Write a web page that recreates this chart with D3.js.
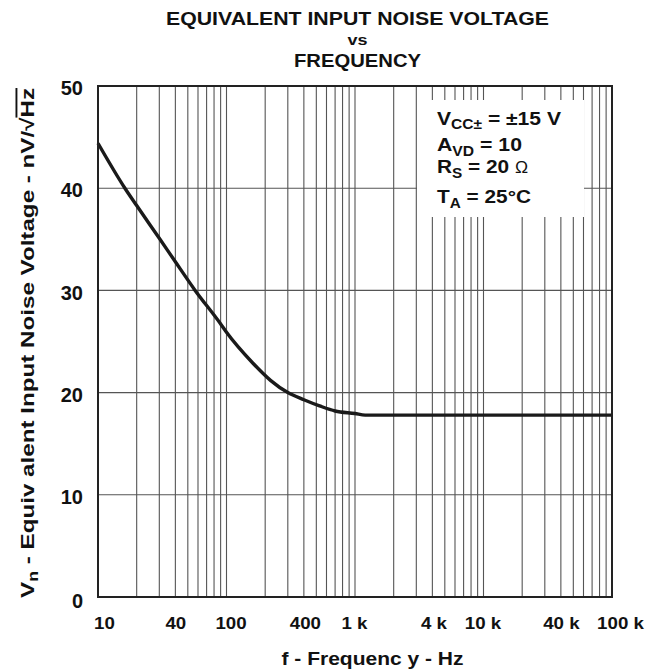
<!DOCTYPE html>
<html>
<head>
<meta charset="utf-8">
<script src="https://cdn.jsdelivr.net/npm/d3@7"></script>
<style>
  body { margin: 0; background: #fff; }
  text { font-family: "Liberation Sans", Arial, sans-serif; font-weight: bold; fill: #111; }
</style>
</head>
<body>
<div id="chart"></div>
<script>
// curve
var freq = [10, 16.2, 20, 30, 40, 57, 89, 100, 160, 220, 300, 400, 530, 700, 1000, 1200, 100000];
var noise = [44.4, 40, 38.3, 35.1, 32.8, 30, 26.8, 25.9, 22.9, 21.2, 20, 19.3, 18.7, 18.2, 17.95, 17.8, 17.8];

var xTickVals = [10, 40, 100, 400, 1000, 4000, 10000, 40000, 100000];
var xTickLabels = ["10", "40", "100", "400", "1 k", "4 k", "10 k", "40 k", "100 k"];
var yTickVals = [0, 10, 20, 30, 40, 50];

var margin = {top: 86, right: 52, bottom: 74, left: 98};
var W = 664, H = 671;
var width = W - margin.left - margin.right;
var height = H - margin.top - margin.bottom;

var svg = d3.select("#chart").append("svg")
  .attr("width", W)
  .attr("height", H);

var x = d3.scaleLog().domain([10, 100000]).range([0, width]);
var y = d3.scaleLinear().domain([0, 50]).range([height, 0]);

var g = svg.append("g")
  .attr("transform", "translate(" + margin.left + "," + margin.top + ")");

// minor + major vertical grid (1..9 per decade)
var gridX = [];
for (var p = 1; p < 5; p++) {
  for (var k = 1; k < 10; k++) {
    gridX.push(k * Math.pow(10, p));
  }
}
g.append("g").selectAll("line")
  .data(gridX.filter(function(d) { return d > 10; }))
  .enter().append("line")
    .attr("x1", function(d) { return x(d); })
    .attr("x2", function(d) { return x(d); })
    .attr("y1", 0)
    .attr("y2", height)
    .attr("stroke", "#555")
    .attr("stroke-width", 1.1);

g.append("g").selectAll("line")
  .data(yTickVals.slice(1, -1))
  .enter().append("line")
    .attr("x1", 0)
    .attr("x2", width)
    .attr("y1", function(d) { return y(d); })
    .attr("y2", function(d) { return y(d); })
    .attr("stroke", "#555")
    .attr("stroke-width", 1.1);

// legend box knocks out the grid
var boxLeft = 319, boxRight = 486;
var box = g.append("g").attr("transform", "translate(" + boxLeft + "," + 14 + ")");
box.append("rect")
  .attr("width", boxRight - boxLeft)
  .attr("height", 117)
  .attr("fill", "#fff");

// curve
var line = d3.line()
  .x(function(d, i) { return x(freq[i]); })
  .y(function(d) { return y(d); })
  .curve(d3.curveMonotoneX);

g.append("path")
  .datum(noise)
  .attr("fill", "none")
  .attr("stroke", "#1a1a1a")
  .attr("stroke-width", 3.4)
  .attr("d", line);

// frame
g.append("rect")
  .attr("width", width)
  .attr("height", height)
  .attr("fill", "none")
  .attr("stroke", "#222")
  .attr("stroke-width", 2);

// axes labels
var xDx = [6, 0, 4, 1, -1, 1, -1, 0, 8];
var xa = g.append("g").attr("transform", "translate(0," + height + ")")
  .call(d3.axisBottom(x).tickValues(xTickVals).tickSize(0).tickFormat(function(d, i) { return xTickLabels[i]; }));
xa.select(".domain").remove();
xa.selectAll("text")
  .attr("dy", null)
  .attr("y", 0)
  .style("font-size", "17px")
  .attr("transform", function(d, i) { return "translate(" + xDx[i] + ",31.5) scale(1.1,1)"; });

var ya = g.append("g")
  .call(d3.axisLeft(y).tickValues(yTickVals).tickSize(0).tickFormat(d3.format("d")));
ya.select(".domain").remove();
ya.selectAll("text")
  .attr("x", -15)
  .attr("dy", 8.7)
  .style("font-size", "20px");
ya.selectAll("text").filter(function(d) { return d == 0; }).attr("dy", 10);

// legend text
var legend = [
  {main: "V", sub: "CC\u00b1", rest: " = \u00b115 V", w: 124},
  {main: "A", sub: "VD", rest: " = 10", w: 85},
  {main: "R", sub: "S", rest: " = 20 ", om: "\u03a9", w: 91},
  {main: "T", sub: "A", rest: " = 25\u00b0C", w: 94}
];
var legY = [24.5, 51, 73, 103];
legend.forEach(function(d, i) {
  var t = box.append("text")
    .attr("x", 117 - 98 + 1)
    .attr("y", legY[i])
    .attr("textLength", d.w)
    .attr("lengthAdjust", "spacingAndGlyphs")
    .style("font-size", "19px");
  t.append("tspan").text(d.main);
  t.append("tspan").attr("dy", 4.5).style("font-size", "14px").text(d.sub);
  t.append("tspan").attr("dy", -4.5).text(d.rest);
  if (d.om) t.append("tspan").style("font-weight", "normal").style("font-size", "16px").text(d.om);
});

// titles
var titles = [
  {t: "EQUIVALENT INPUT NOISE VOLTAGE", y: 25, s: 17.5, w: 383},
  {t: "vs", y: 45, s: 15.5, w: 20},
  {t: "FREQUENCY", y: 66.5, s: 18, w: 127}
];
svg.selectAll(".title").data(titles).enter().append("text")
  .attr("class", "title")
  .attr("x", 357.5)
  .attr("y", function(d) { return d.y; })
  .attr("text-anchor", "middle")
  .attr("textLength", function(d) { return d.w; })
  .attr("lengthAdjust", "spacingAndGlyphs")
  .style("font-size", function(d) { return d.s + "px"; })
  .text(function(d) { return d.t; });

svg.append("text")
  .attr("x", 372.5)
  .attr("y", 665)
  .attr("text-anchor", "middle")
  .attr("textLength", 182)
  .attr("lengthAdjust", "spacingAndGlyphs")
  .style("font-size", "19px")
  .text("f - Frequenc y - Hz");

var yt = svg.append("text")
  .attr("transform", "translate(33.5,343) rotate(-90)")
  .attr("text-anchor", "middle")
  .attr("textLength", 510)
  .attr("lengthAdjust", "spacingAndGlyphs")
  .style("font-size", "19px");
yt.append("tspan").text("V");
yt.append("tspan").attr("dy", 4.5).style("font-size", "14px").text("n");
yt.append("tspan").attr("dy", -4.5).text(" - Equiv alent Input Noise Voltage -  nV/\u221a");
yt.append("tspan").style("text-decoration", "overline").text("Hz");
</script>
</body>
</html>
